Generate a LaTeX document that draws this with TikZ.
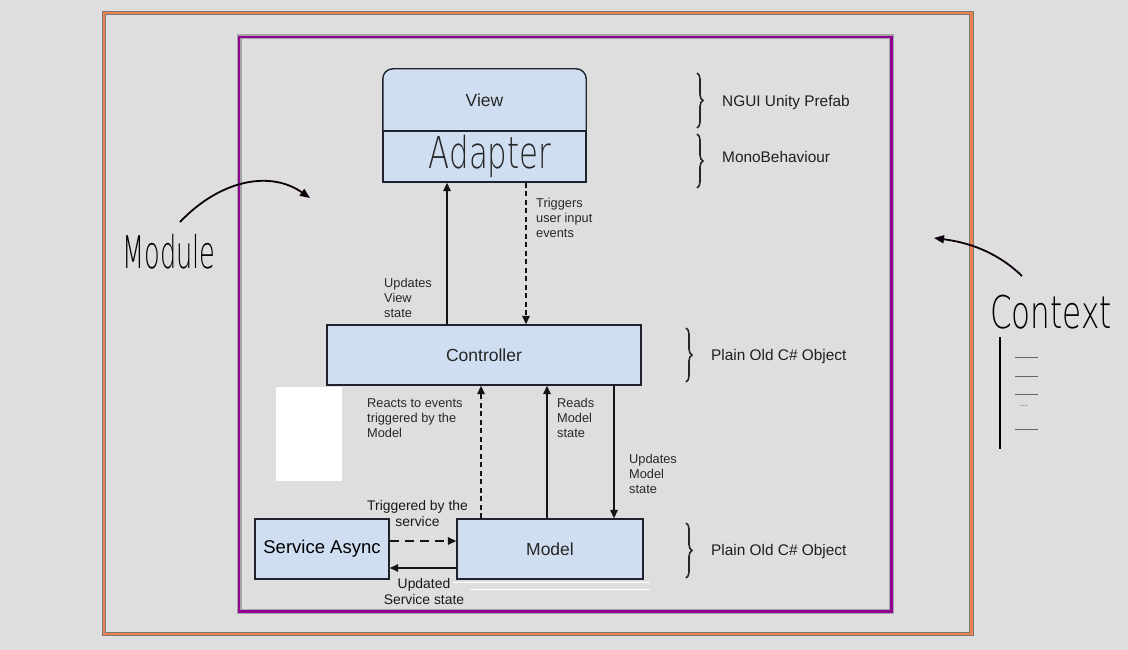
\documentclass[tikz,border=0pt]{standalone}
\usepackage{fontspec}
\setmainfont{Liberation Sans}
\newfontfamily\hand{DejaVu Sans ExtraLight}
\usetikzlibrary{arrows.meta,decorations.pathreplacing,backgrounds}
\definecolor{bgc}{RGB}{222,222,222}
\definecolor{boxfill}{RGB}{207,222,240}
\definecolor{boxline}{RGB}{30,34,44}
\definecolor{arrc}{RGB}{20,20,20}
\definecolor{lblc}{RGB}{40,40,40}
\definecolor{orangec}{RGB}{240,130,75}
\definecolor{purplec}{RGB}{145,0,145}
\definecolor{frameg}{RGB}{120,120,120}
\definecolor{haloc}{RGB}{165,165,165}
\begin{document}
\begin{tikzpicture}[x=1pt,y=-1pt,
  box/.style={draw=boxline, line width=1.4pt, fill=boxfill, inner sep=0pt,
    font=\fontsize{17.5}{20}\selectfont, text=black!85},
  lbl/.style={align=left, anchor=north west, inner sep=0pt,
    font=\fontsize{12.8}{15}\selectfont, text=lblc},
  svclbl/.style={align=center, anchor=north, inner sep=0pt,
    font=\fontsize{13.9}{16}\selectfont, text=black!90},
  side/.style={anchor=base west, inner sep=0pt, font=\fontsize{15.4}{18}\selectfont, text=black!88},
  conn/.style={line width=1.5pt, draw=arrc, -{Triangle[length=8.5pt,width=7.5pt]}},
  dconn/.style={conn, dash pattern=on 5pt off 3.5pt},
  brc/.style={draw=black!85, line width=1.6pt, decorate, decoration={brace, amplitude=6pt, aspect=0.5}},
  handarrow/.style={line width=1.8pt, draw=black!92!purplec, -{Triangle[length=10pt,width=8pt]}},
  handtxt/.style={inner sep=0pt, anchor=base west, font=\hand\fontsize{45}{50}\selectfont},
  tick/.style={draw=black!60, line width=0.8pt}]

\begin{scope}[on background layer]
  \fill[bgc] (0,0) rectangle (1128,650);
\end{scope}
\useasboundingbox (0,0) rectangle (1128,650);

% frames
\draw[frameg, line width=4.5pt] (104,13) rectangle (971.5,634);
\draw[orangec, line width=2.6pt] (104,13) rectangle (971.5,634);
\draw[haloc, line width=5pt] (239,37) rectangle (891.5,611.5);
\draw[purplec, line width=2.6pt] (239,37) rectangle (891.5,611.5);

% white patch
\fill[white] (276,387) rectangle (342,481);

% View / Adapter
\node[inner sep=0pt, minimum width=203pt, minimum height=62pt,
  font=\fontsize{17.5}{20}\selectfont, text=black!85] (view) at (484.5,100) {View};
\begin{scope}[on background layer]
  \fill[boxfill, rounded corners=10pt] (view.north west) rectangle (view.south east);
  \fill[boxfill] ([yshift=20pt]view.south west) rectangle (view.south east);
\end{scope}
\draw[boxline, line width=1.4pt, rounded corners=10pt]
  (view.south west) -- (view.north west) -- (view.north east) -- (view.south east);
\node[box, minimum width=203pt, minimum height=51pt] (adapter) at (484.5,156.5)
  {\hspace{11pt}\scalebox{0.7}[1]{\hand\fontsize{44}{48}\selectfont Adapter}};

\node[box, minimum width=314pt, minimum height=60pt] (controller) at (484,355) {Controller};
\node[box, minimum width=186pt, minimum height=60pt] (model) at (550,549) {Model};
\node[box, minimum width=134pt, minimum height=60pt, font=\fontsize{18.5}{21}\selectfont, text=black] (service) at (322,549) {Service Async};

% helper coordinates for connector columns
\coordinate (x447) at (447,0);
\coordinate (x526) at (526,0);
\coordinate (x481) at (481,0);
\coordinate (x547) at (547,0);
\coordinate (x614) at (614,0);
\coordinate (y541) at (0,541);
\coordinate (y568) at (0,568);

% connectors
\draw[conn] (controller.north -| x447) -- (adapter.south -| x447);
\draw[dconn] (adapter.south -| x526) -- (controller.north -| x526);
\draw[dconn] (model.north -| x481) -- (controller.south -| x481);
\draw[conn] (model.north -| x547) -- (controller.south -| x547);
\draw[conn] (controller.south -| x614) -- (model.north -| x614);
\draw[conn, dash pattern=on 9pt off 6pt] (service.east |- y541) -- (model.west |- y541);
\draw[conn] (model.west |- y568) -- (service.east |- y568);

% labels
\node[lbl] (l1) at (384,278.5) {Updates\\View\\state};
\node[lbl] (l2) at (536,198.5) {Triggers\\user input\\events};
\node[lbl] (l3) at (367,398.5) {Reacts to events\\triggered by the\\Model};
\node[lbl] (l4) at (557,398.5) {Reads\\Model\\state};
\node[lbl] (l5) at (629,454.5) {Updates\\Model\\state};
\node[svclbl] (l6) at (417.5,500.5) {Triggered by the\\service};
\node[svclbl] (l7) at (424,578) {Updated\\Service state};

% white lines under model
\draw[white, line width=1pt] (453,582) -- (650,582);
\draw[white, line width=1pt] (470,589) -- (650,589);

% braces
\draw[brc] (697,73) -- (697,128);
\draw[brc] (697,134) -- (697,188);
\draw[brc] (686,328) -- (686,382);
\draw[brc] (686,523) -- (686,578);
\node[side] (s1) at (722,106.5) {NGUI Unity Prefab};
\node[side] (s2) at (722,162.5) {MonoBehaviour};
\node[side] (s3) at (711,360.5) {Plain Old C\# Object};
\node[side] (s4) at (711,555.5) {Plain Old C\# Object};

% handwritten notes
\node[handtxt] (module) at (122,268) {\scalebox{0.57}[1]{Module}};
\node[handtxt] (context) at (990,328) {\scalebox{0.69}[1]{Context}};
\coordinate (mstart) at (180,222);
\coordinate (mend) at (310,198);
\draw[handarrow] (mstart) .. controls (220,180) and (270,170) .. (mend);
\coordinate (cstart) at (1022,276);
\coordinate (cend) at (934,238);
\draw[handarrow] (cstart) .. controls (995,250) and (965,242) .. (cend);

% context list
\coordinate (lt) at (1000,337);
\coordinate (lb) at (1000,449);
\draw[black, line width=2pt] (lt) -- (lb);
\foreach \yy in {357,376,394,429}{
  \draw[tick] (1015,\yy) -- (1038,\yy);
}
\node[inner sep=0pt, font=\fontsize{10}{11}\selectfont, text=black!60] (dots) at (1024,406) {...};
\end{tikzpicture}
\end{document}
